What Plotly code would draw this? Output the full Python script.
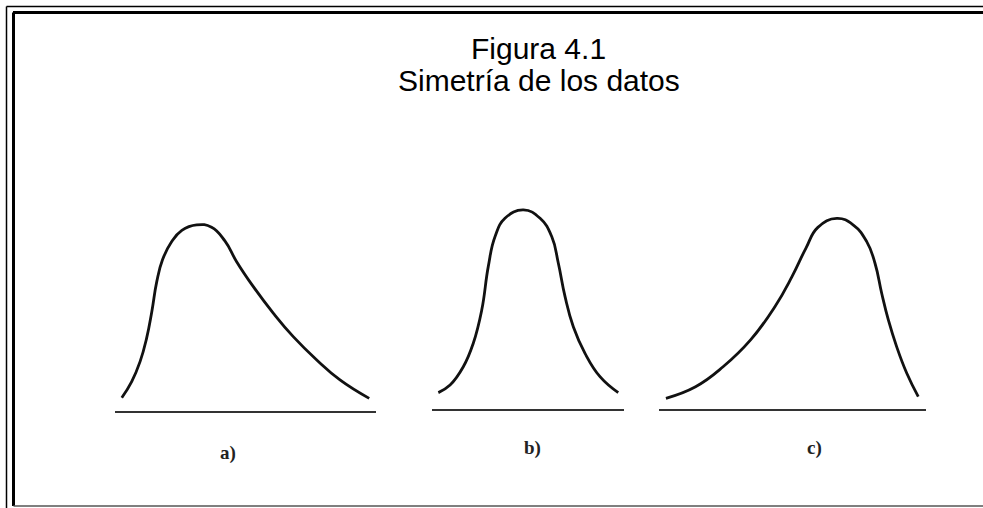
import plotly.graph_objects as go

# Curvas (x: posición sobre la base 0-10, y: altura 0-10)
a_x = [0.26, 0.64, 0.96, 1.21, 1.41, 1.60, 1.82, 2.15, 2.56, 3.13, 3.70, 4.21, 4.66, 5.30, 6.07, 6.83, 7.73, 8.62, 9.74]
a_y = [0.63, 1.40, 2.35, 3.46, 4.73, 6.16, 7.20, 8.02, 8.60, 8.86, 8.75, 8.10, 7.11, 5.92, 4.65, 3.54, 2.43, 1.48, 0.60]

b_x = [0.33, 0.94, 1.63, 2.15, 2.59, 2.93, 3.28, 3.80, 4.76, 5.63, 6.24, 6.58, 6.93, 7.36, 7.97, 8.75, 9.70]
b_y = [0.78, 1.14, 2.01, 3.13, 4.71, 6.78, 8.20, 9.08, 9.48, 9.08, 8.20, 6.94, 5.35, 3.92, 2.65, 1.54, 0.78]

c_x = [0.26, 1.37, 2.40, 3.43, 4.34, 4.98, 5.50, 5.95, 6.66, 7.28, 7.78, 8.09, 8.34, 8.59, 8.90, 9.28, 9.71]
c_y = [0.51, 1.06, 2.01, 3.29, 4.87, 6.30, 7.65, 8.65, 9.08, 8.76, 7.97, 6.94, 5.51, 4.24, 2.97, 1.70, 0.59]

labels = ["a)", "b)", "c)"]
label_x = [4.33, 5.21, 5.81]

W, H = 983, 508

# dominios en pixeles de cada panel: (x0, x1, base, tope)
panels = [(115, 376, 411, 201), (432, 624, 409, 199), (659, 926, 409, 199)]
curves = [(a_x, a_y), (b_x, b_y), (c_x, c_y)]

fig = go.Figure()
for i, ((cx, cy), (x0, x1, yb, yt)) in enumerate(zip(curves, panels)):
    n = "" if i == 0 else str(i + 1)
    fig.add_trace(go.Scatter(x=cx, y=cy, mode="lines", line_shape="spline",
                             line=dict(color="#111111", width=2.8, smoothing=1.3),
                             xaxis="x" + n, yaxis="y" + n, showlegend=False,
                             hoverinfo="skip"))
    fig.update_layout(**{
        "xaxis" + n: dict(domain=[x0 / W, x1 / W], range=[0, 10], showgrid=False,
                          zeroline=False, showticklabels=False, ticks="",
                          showline=True, linecolor="#333333", linewidth=2,
                          anchor="y" + n, fixedrange=True),
        "yaxis" + n: dict(domain=[1 - yb / H, 1 - yt / H], range=[0, 10], showgrid=False,
                          zeroline=False, showticklabels=False, visible=False,
                          anchor="x" + n, fixedrange=True),
    })
    # etiqueta bajo la linea base
    fig.add_annotation(x=label_x[i], y=-(42 if i == 0 else 39) / (yb - yt),
                       xref="x" + n, yref="y" + n + " domain", yanchor="middle",
                       text="<b>" + labels[i] + "</b>", showarrow=False,
                       font=dict(family="Liberation Serif", size=19, color="#222222"))

# titulo
fig.add_annotation(x=538 / W, y=1 - 48 / H, xref="paper", yref="paper",
                   xanchor="center", yanchor="middle",
                   text="Figura 4.1", showarrow=False,
                   font=dict(family="Liberation Sans", size=30, color="black"))
fig.add_annotation(x=539 / W, y=1 - 81 / H, xref="paper", yref="paper",
                   xanchor="center", yanchor="middle",
                   text="Simetría de los datos", showarrow=False,
                   font=dict(family="Liberation Sans", size=30, color="black"))

# marco doble
def line(x0, y0, x1, y1, w, c="black"):
    fig.add_shape(type="line", xref="paper", yref="paper",
                  x0=x0 / W, y0=1 - y0 / H, x1=x1 / W, y1=1 - y1 / H,
                  line=dict(color=c, width=w))

line(6.5, 6.5, W, 6.5, 1.5)
line(6.5, 6.5, 6.5, H, 1.5)
line(13, 12.5, W, 12.5, 3)
line(13.5, 12.5, 13.5, 506, 3)
line(13.5, 506, W, 506, 1.5, "#555555")

fig.update_layout(width=W, height=H, margin=dict(l=0, r=0, t=0, b=0),
                  paper_bgcolor="white", plot_bgcolor="white")

fig.write_html("out.html", config={"displayModeBar": False},
               post_script="document.body.style.margin='0';")
